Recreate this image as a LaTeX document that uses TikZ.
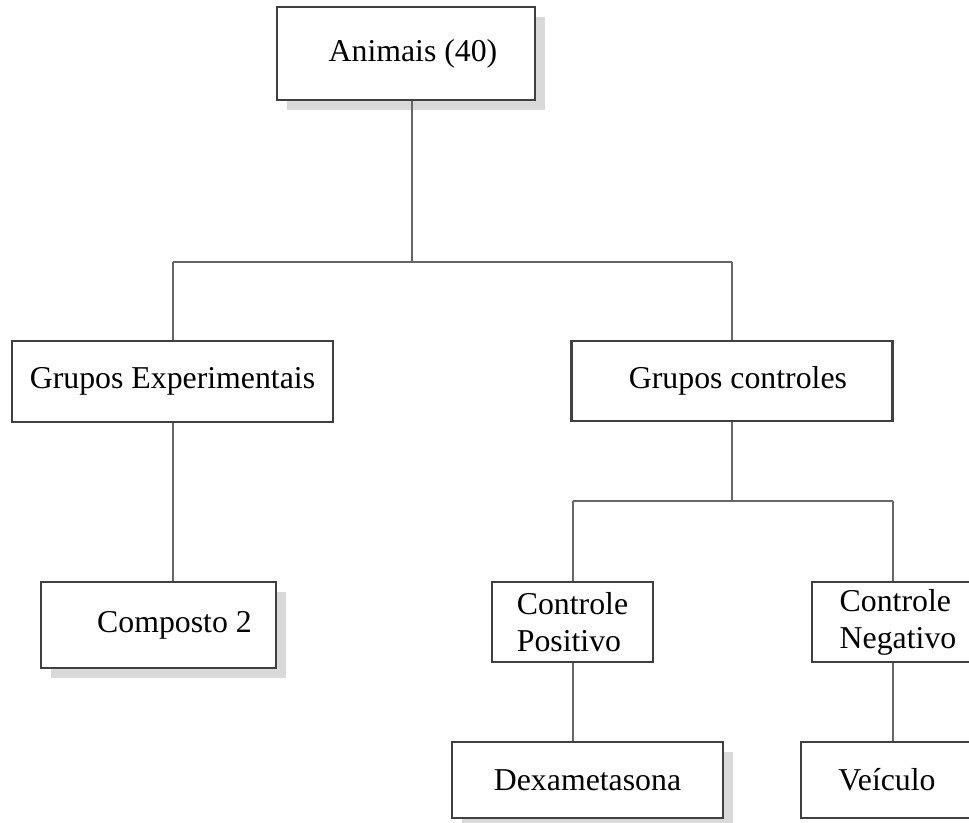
\documentclass[tikz,border=0pt]{standalone}
\usepackage{fontspec}
\setmainfont{Liberation Serif}
\usepackage{tikz}
\usetikzlibrary{shadows}

\tikzset{
	caixa/.style={draw=black!75, line width=1.1pt, fill=white, rectangle, inner sep=2pt,
		font=\fontsize{15.9}{18.5}\selectfont},
	sombra/.style={drop shadow={shadow xshift=5pt, shadow yshift=-5pt, fill=black!15, opacity=1}},
	ligacao/.style={draw=black!60, line width=1pt}
}

\begin{document}
\begin{tikzpicture}[x=0.5pt, y=-0.5pt]
	\useasboundingbox (0,0) rectangle (969,823);
	\clip (0,0) rectangle (969,823);
	% caixas
	\node (anim) at (406,53.5) [caixa, sombra, minimum width=129pt, minimum height=46.5pt] {\hspace{7pt}Animais (40)};
	\node (gexp) at (172.5,381.5) [caixa, minimum width=160.5pt, minimum height=40.5pt] {Grupos Experimentais};
	\node (gctl) at (732,381) [caixa, minimum width=160.5pt, minimum height=40pt] {\hspace{6pt}Grupos controles};
	\node (comp) at (158.5,625) [caixa, sombra, minimum width=117.5pt, minimum height=43pt] {\hspace{16pt}Composto 2};
	\node (cpos) at (572.5,622) [caixa, align=left, minimum width=80.5pt, minimum height=40pt] {Controle\\Positivo};
	\node (cneg) at (893,622) [caixa, align=left, minimum width=81pt, minimum height=40pt] {\hspace{5pt}Controle\\\hspace{5pt}Negativo};
	\node (dexa) at (587.5,780) [caixa, sombra, minimum width=135.5pt, minimum height=38pt] {Dexametasona};
	\node (veic) at (887,780) [caixa, minimum width=86pt, minimum height=38pt] {Veículo};
	% ligacoes
	\coordinate (nivel1) at (412,262);
	\coordinate (nivel2) at (732,501);
	\draw[ligacao] (anim.south -| nivel1) -- (nivel1);
	\draw[ligacao] (gexp.north |- nivel1) -- (gctl.north |- nivel1);
	\draw[ligacao] (gexp.north |- nivel1) -- (gexp.north);
	\draw[ligacao] (gctl.north |- nivel1) -- (gctl.north);
	\draw[ligacao] (gexp.south) -- (gexp.south |- comp.north);
	\draw[ligacao] (gctl.south) -- (nivel2);
	\draw[ligacao] (cpos.north |- nivel2) -- (cneg.north |- nivel2);
	\draw[ligacao] (cpos.north |- nivel2) -- (cpos.north);
	\draw[ligacao] (cneg.north |- nivel2) -- (cneg.north);
	\draw[ligacao] (cpos.south) -- (cpos.south |- dexa.north);
	\draw[ligacao] (cneg.south) -- (cneg.south |- veic.north);
\end{tikzpicture}
\end{document}
